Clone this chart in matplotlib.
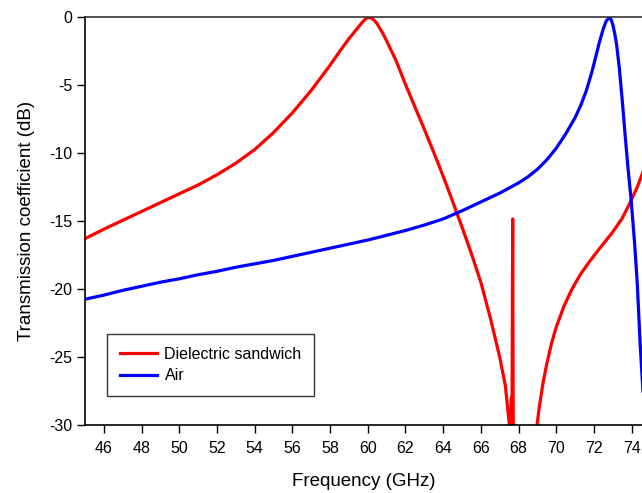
import matplotlib
matplotlib.use('Agg')
import matplotlib.pyplot as plt

plt.rcParams['font.family'] = ['Liberation Sans', 'DejaVu Sans']

# Dielectric sandwich (red)
f_red = [45.0, 46, 47, 48, 49, 50, 51, 52, 53, 54, 55, 56, 57, 58, 58.5, 59, 59.5, 59.7,
         59.9, 60.05, 60.2, 60.35, 60.5, 60.65, 60.8, 61, 61.5, 62, 62.5, 63, 63.5, 64,
         64.5, 65, 65.5, 66, 66.5, 67, 67.3, 67.55, 67.62, 67.65, 67.69, 67.72, 67.8, 68.9,
         68.98, 69.1, 69.3, 69.5, 69.75, 70.0, 70.4, 70.8, 71.25, 71.7, 72.2, 72.6, 73.0,
         73.5, 73.9, 74.3, 74.6]
db_red = [-16.3, -15.6, -14.95, -14.3, -13.65, -13.0, -12.35, -11.6, -10.75, -9.75, -8.5,
          -7.05, -5.4, -3.55, -2.55, -1.6, -0.75, -0.4, -0.12, -0.03, -0.08, -0.25, -0.5,
          -0.85, -1.2, -1.75, -3.2, -4.95, -6.6, -8.25, -9.95, -11.7, -13.55, -15.45, -17.4,
          -19.5, -22.1, -25.0, -27.1, -30.5, -28.0, -31.0, -14.85, -31.0, -40, -40, -30.0,
          -28.7, -26.9, -25.5, -24.0, -22.8, -21.3, -20.1, -19.0, -18.1, -17.2, -16.5,
          -15.8, -14.8, -13.7, -12.5, -11.4]

# Air (blue)
f_blue = [45, 46, 47, 48, 49, 50, 51, 52, 53, 54, 55, 56, 57, 58, 59, 60, 61, 62, 63, 64,
          65, 66, 67, 68, 68.5, 69, 69.5, 70, 70.5, 71, 71.3, 71.6, 71.9, 72.1, 72.3, 72.5,
          72.65, 72.8, 72.9, 73.0, 73.1, 73.2, 73.35, 73.5, 73.65, 73.8, 73.97, 74.15, 74.3,
          74.45, 74.6]
db_blue = [-20.75, -20.45, -20.1, -19.8, -19.5, -19.25, -18.95, -18.7, -18.4, -18.15, -17.9,
           -17.6, -17.3, -17.0, -16.7, -16.4, -16.05, -15.7, -15.3, -14.85, -14.25, -13.6,
           -12.95, -12.2, -11.75, -11.2, -10.5, -9.65, -8.6, -7.4, -6.5, -5.4, -4.0, -2.9,
           -1.8, -0.85, -0.3, -0.05, -0.15, -0.55, -1.2, -2.0, -3.8, -6.1, -8.6, -11.0,
           -13.4, -16.5, -19.6, -24.0, -27.5]

xticks = list(range(46, 76, 2))
yticks = [0, -5, -10, -15, -20, -25, -30]

fig = plt.figure(figsize=(6.42, 4.93), dpi=100)
ax = fig.add_axes([85/642, 1-425/493, 557/642, 408/493])

ax.plot(f_red, db_red, color='#ff0000', lw=2.3, label='Dielectric sandwich')
ax.plot(f_blue, db_blue, color='#0000ff', lw=2.3, label='Air')

ax.set_xlim(45, 74.55)
ax.set_ylim(-30, 0)
ax.set_xticks(xticks)
ax.set_yticks(yticks)
ax.set_yticklabels([str(v) for v in yticks])
ax.tick_params(direction='out', length=5.5, width=1, labelsize=11.5, colors='black')
ax.tick_params(axis='x', pad=6)
ax.spines['right'].set_visible(False)
ax.spines['top'].set_color('#333333')
for s in ['left', 'bottom', 'top']:
    ax.spines[s].set_linewidth(1.2)

ax.set_xlabel('Frequency (GHz)', fontsize=13.5, labelpad=12)
ax.set_ylabel('Transmission coefficient (dB)', fontsize=13.5, labelpad=10)

leg = ax.legend(loc='lower left', bbox_to_anchor=(22/557, 29/408), borderaxespad=0,
                fontsize=11.5, frameon=True, fancybox=False, handlelength=2.3,
                handletextpad=0.5, borderpad=0.8, labelspacing=0.4)
leg.get_frame().set_edgecolor('black')
leg.get_frame().set_linewidth(1.0)

fig.savefig('out.png', dpi=100)
